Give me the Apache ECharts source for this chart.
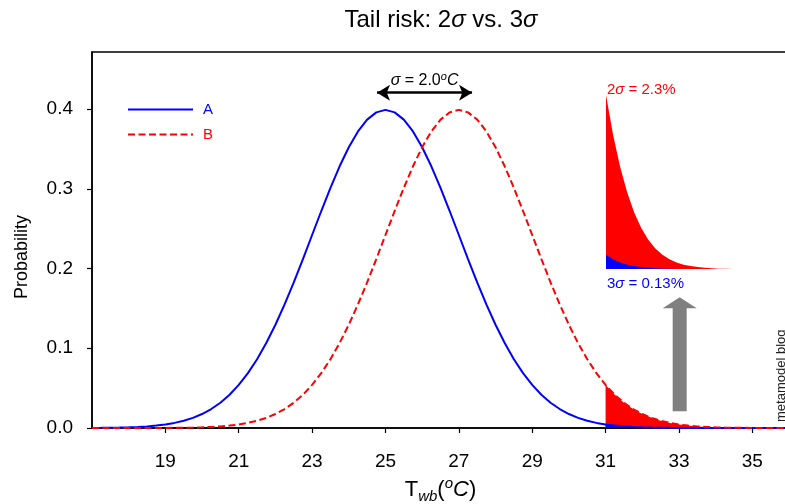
<!DOCTYPE html>
<html>
<head>
<meta charset="utf-8">
<title>Tail risk: 2σ vs. 3σ</title>
<script src="https://cdn.jsdelivr.net/npm/echarts@6/dist/echarts.min.js"></script>
<style>
  html, body { margin: 0; padding: 0; background: #fff; }
  #chart { width: 785px; height: 504px; }
</style>
</head>
<body>
<div id="chart"></div>
<script>
// curves sampled every 0.25 degC from 17 to 36
var xStart = 17, xStep = 0.25;
var curveA = [
  .0001, .0002, .0004, .0006, .0009, .0013, .0020, .0030, .0044, .0064, .0091, .0127, .0175, .0238, .0317, .0417, .0540,
  .0688, .0863, .1065, .1295, .1550, .1826, .2119, .2420, .2721, .3011, .3282, .3521, .3719, .3867, .3958, .3989,
  .3958, .3867, .3719, .3521, .3282, .3011, .2721, .2420, .2119, .1826, .1550, .1295, .1065, .0863, .0688, .0540,
  .0417, .0317, .0238, .0175, .0127, .0091, .0064, .0044, .0030, .0020, .0013, .0009, .0006, .0004, .0002, .0001, .0001,
  0, 0, 0, 0, 0, 0, 0, 0, 0, 0, 0
];
var curveB = [
  0, 0, 0, 0, 0, 0, 0,
  .0001, .0001, .0002, .0004, .0006, .0009, .0013, .0020, .0030, .0044, .0064, .0091, .0127, .0175, .0238, .0317, .0417,
  .0540, .0688, .0863, .1065, .1295, .1550, .1826, .2119, .2420, .2721, .3011, .3282, .3521, .3719, .3867, .3958, .3989,
  .3958, .3867, .3719, .3521, .3282, .3011, .2721, .2420, .2119, .1826, .1550, .1295, .1065, .0863, .0688, .0540,
  .0417, .0317, .0238, .0175, .0127, .0091, .0064, .0044, .0030, .0020, .0013, .0009, .0006, .0004, .0002, .0001, .0001,
  0, 0, 0
];
var threshold = 31;
var xTicks = [19, 21, 23, 25, 27, 29, 31, 33, 35];
var yTicks = [0, 0.1, 0.2, 0.3, 0.4];

// annotations
var shiftArrow = [[24.77, 0.4205], [27.36, 0.4205]];
var upArrow = [33.02, 0.0925];

var blue = '#0000ff', red = '#ff0000';
var FONT = 'Liberation Sans, Arial, sans-serif';

function pairs(arr) {
  return arr.map(function (v, i) { return [xStart + i * xStep, v]; });
}
function tail(arr) {
  return pairs(arr).filter(function (p) { return p[0] >= threshold; });
}

var chart = echarts.init(document.getElementById('chart'));

var option = {
  animation: false,
  textStyle: { fontFamily: FONT },
  title: [{
    text: 'Tail risk: 2{i|σ} vs. 3{i|σ}',
    left: 441, top: 8, textAlign: 'center', padding: 0,
    textStyle: { fontSize: 24, fontWeight: 'normal', color: '#000', fontFamily: FONT,
      rich: { i: { fontStyle: 'italic', fontSize: 24, color: '#000', fontFamily: FONT } } }
  }, {
    text: '2{i|σ} = 2.3%',
    left: 607, top: 82, padding: 0,
    textStyle: { fontSize: 15, fontWeight: 'normal', color: red, fontFamily: FONT,
      rich: { i: { fontStyle: 'italic', fontSize: 15, color: red, fontFamily: FONT } } }
  }, {
    text: '3{i|σ} = 0.13%',
    left: 607, top: 276, padding: 0,
    textStyle: { fontSize: 15, fontWeight: 'normal', color: blue, fontFamily: FONT,
      rich: { i: { fontStyle: 'italic', fontSize: 15, color: blue, fontFamily: FONT } } }
  }],
  legend: {
    data: [
      { name: 'A', textStyle: { color: blue } },
      { name: 'B', textStyle: { color: red } }
    ],
    orient: 'vertical', left: 127, top: 102, padding: 0,
    itemWidth: 65, itemHeight: 14, itemGap: 10,
    itemStyle: { opacity: 0 },
    textStyle: { fontSize: 15, fontFamily: FONT, padding: [0, 0, 0, 5] }
  },
  graphic: [{
    type: 'text', x: 781, y: 422, rotation: Math.PI / 2,
    style: { text: 'metamodel blog', font: '13px Liberation Sans', fill: '#222', align: 'left', verticalAlign: 'middle' }
  }],
  grid: [
    { left: 92, top: 52, width: 697, height: 376, outerBoundsMode: 'none', containLabel: false,
      show: true, borderColor: '#000', borderWidth: 1.5, backgroundColor: 'transparent' },
    { left: 606, top: 95, width: 141, height: 174, outerBoundsMode: 'none', containLabel: false }
  ],
  xAxis: [{
    type: 'value', gridIndex: 0, min: 17, max: 36,
    axisLine: { lineStyle: { color: '#000', width: 1.5 } },
    axisTick: { show: true, length: 5, customValues: xTicks, lineStyle: { color: '#000', width: 1.2 } },
    axisLabel: { customValues: xTicks, fontSize: 19, color: '#000', margin: 24, fontFamily: FONT },
    splitLine: { show: false },
    name: '{n|T}{sub|wb}{n|(}{sup|o}{it|C}{n|)}',
    nameLocation: 'middle', nameGap: 47,
    nameTextStyle: {
      fontSize: 22, color: '#000', fontFamily: FONT,
      rich: {
        n: { fontSize: 22, color: '#000', fontFamily: FONT, lineHeight: 28 },
        sub: { fontSize: 15, fontStyle: 'italic', color: '#000', fontFamily: FONT, verticalAlign: 'bottom', padding: [6, 0, 0, 0] },
        sup: { fontSize: 15, fontStyle: 'italic', color: '#000', fontFamily: FONT, verticalAlign: 'top', padding: [0, 0, 8, 0] },
        it: { fontSize: 22, fontStyle: 'italic', color: '#000', fontFamily: FONT }
      }
    }
  }, {
    type: 'value', gridIndex: 1, min: 31, max: 36, show: false
  }],
  yAxis: [{
    type: 'value', gridIndex: 0, min: 0, max: 0.4715,
    axisLine: { show: true, lineStyle: { color: '#000', width: 1.5 } },
    axisTick: { show: true, length: 5, customValues: yTicks, lineStyle: { color: '#000', width: 1.2 } },
    axisLabel: { customValues: yTicks, fontSize: 19, color: '#000', margin: 19, fontFamily: FONT,
      formatter: function (v) { return v.toFixed(1); } },
    splitLine: { show: false },
    name: 'Probability', nameLocation: 'middle', nameGap: 61,
    nameTextStyle: { fontSize: 18, color: '#000', fontFamily: FONT, padding: [0, 34, 0, 0] }
  }, {
    type: 'value', gridIndex: 1, min: 0, max: 0.054, show: false
  }],
  series: [{
    name: 'B tail', type: 'line', xAxisIndex: 0, yAxisIndex: 0,
    data: tail(curveB), showSymbol: false, symbol: 'none',
    lineStyle: { width: 0 }, areaStyle: { color: red, opacity: 1 }, z: 2
  }, {
    name: 'A tail', type: 'line', xAxisIndex: 0, yAxisIndex: 0,
    data: tail(curveA), showSymbol: false, symbol: 'none',
    lineStyle: { width: 0 }, areaStyle: { color: blue, opacity: 1 }, z: 2
  }, {
    name: 'A', type: 'line', xAxisIndex: 0, yAxisIndex: 0,
    data: pairs(curveA), showSymbol: false, symbol: 'none', color: blue,
    lineStyle: { color: blue, width: 2 }, z: 3,
    markLine: {
      silent: true, symbol: ['arrow', 'arrow'], symbolSize: [12, 13],
      lineStyle: { color: '#000', width: 2.5, type: 'solid' },
      label: {
        show: true, position: 'middle', distance: 4, color: '#000',
        formatter: '{i|σ} = 2.0{s|o}{i|C}',
        fontSize: 16, fontFamily: FONT,
        rich: {
          i: { fontStyle: 'italic', fontSize: 16, color: '#000', fontFamily: FONT },
          s: { fontStyle: 'italic', fontSize: 11, color: '#000', fontFamily: FONT, verticalAlign: 'top', padding: [0, 0, 6, 0] }
        }
      },
      data: [[{ coord: shiftArrow[0] }, { coord: shiftArrow[1] }]]
    },
    markPoint: {
      silent: true,
      symbol: 'path://M17,0L34,11L24,11L24,114L10,114L10,11L0,11Z',
      symbolSize: [34, 114],
      itemStyle: { color: '#808080' },
      label: { show: false },
      data: [{ coord: upArrow }]
    }
  }, {
    name: 'B', type: 'line', xAxisIndex: 0, yAxisIndex: 0,
    data: pairs(curveB), showSymbol: false, symbol: 'none', color: red,
    lineStyle: { color: red, width: 2, type: [7, 3.5] }, z: 3
  }, {
    name: 'B inset', type: 'line', xAxisIndex: 1, yAxisIndex: 1,
    data: tail(curveB), showSymbol: false, symbol: 'none',
    lineStyle: { width: 0 }, areaStyle: { color: red, opacity: 1 }, z: 2
  }, {
    name: 'A inset', type: 'line', xAxisIndex: 1, yAxisIndex: 1,
    data: tail(curveA), showSymbol: false, symbol: 'none',
    lineStyle: { width: 0 }, areaStyle: { color: blue, opacity: 1 }, z: 2
  }]
};

chart.setOption(option);
</script>
</body>
</html>
